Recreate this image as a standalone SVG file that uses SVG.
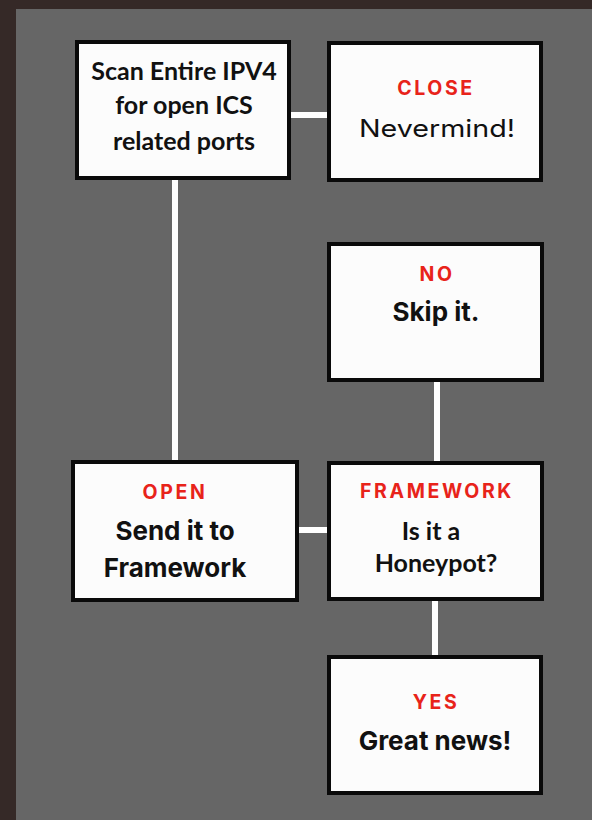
<svg xmlns="http://www.w3.org/2000/svg" width="592" height="820" viewBox="0 0 592 820">
<style>
.box{fill:#fcfcfc;stroke:#0a0a0a;stroke-width:4}
.conn{stroke:#ffffff;stroke-width:6;fill:none}
.lbl{font-family:Inter,"DejaVu Sans",sans-serif;font-weight:700;fill:#e8231a;text-anchor:middle;font-size:19.5px;letter-spacing:2.6px}
.body{font-family:Inter,"DejaVu Sans",sans-serif;font-weight:700;fill:#111;text-anchor:middle;font-size:26px}
.reg{font-family:Inter,"DejaVu Sans",sans-serif;font-weight:400;fill:#111;text-anchor:middle;font-size:24px}
.cal{font-family:Lato,"Open Sans",sans-serif;font-weight:700;fill:#111;text-anchor:middle;font-size:25px}
</style>
<rect x="0" y="0" width="592" height="820" fill="#352927"/>
<rect x="16" y="9" width="576" height="811" fill="#666666"/>
<g id="connectors">
<line class="conn" x1="291" y1="115" x2="327" y2="115"/>
<line class="conn" x1="175" y1="180" x2="175" y2="460"/>
<line class="conn" x1="437" y1="382" x2="437" y2="461"/>
<line class="conn" x1="299" y1="530" x2="327" y2="530"/>
<line class="conn" x1="435" y1="601" x2="435" y2="655"/>
</g>
<g id="scan">
<rect class="box" x="77" y="42" width="212" height="136"/>
<text class="cal" x="184" y="80">Scan Entire IPV4</text>
<text class="cal" x="184" y="114">for open ICS</text>
<text class="cal" x="184" y="150">related ports</text>
</g>
<g id="close">
<rect class="box" x="329" y="43" width="212" height="137"/>
<text class="lbl" x="436" y="95">CLOSE</text>
<text class="reg" x="437" y="137" textLength="156" lengthAdjust="spacingAndGlyphs">Nevermind!</text>
</g>
<g id="no">
<rect class="box" x="329" y="244" width="213" height="136"/>
<text class="lbl" x="437" y="281">NO</text>
<text class="body" x="436" y="321">Skip it.</text>
</g>
<g id="open">
<rect class="box" x="73" y="462" width="224" height="138"/>
<text class="lbl" x="175" y="499">OPEN</text>
<text class="body" x="175" y="540">Send it to</text>
<text class="body" x="175" y="577">Framework</text>
</g>
<g id="framework">
<rect class="box" x="329" y="463" width="213" height="136"/>
<text class="lbl" x="437" y="498">FRAMEWORK</text>
<text class="cal" x="431" y="540">Is it a</text>
<text class="cal" x="436" y="572">Honeypot?</text>
</g>
<g id="yes">
<rect class="box" x="329" y="657" width="212" height="136"/>
<text class="lbl" x="436" y="709">YES</text>
<text class="body" x="435" y="750">Great news!</text>
</g>
</svg>
